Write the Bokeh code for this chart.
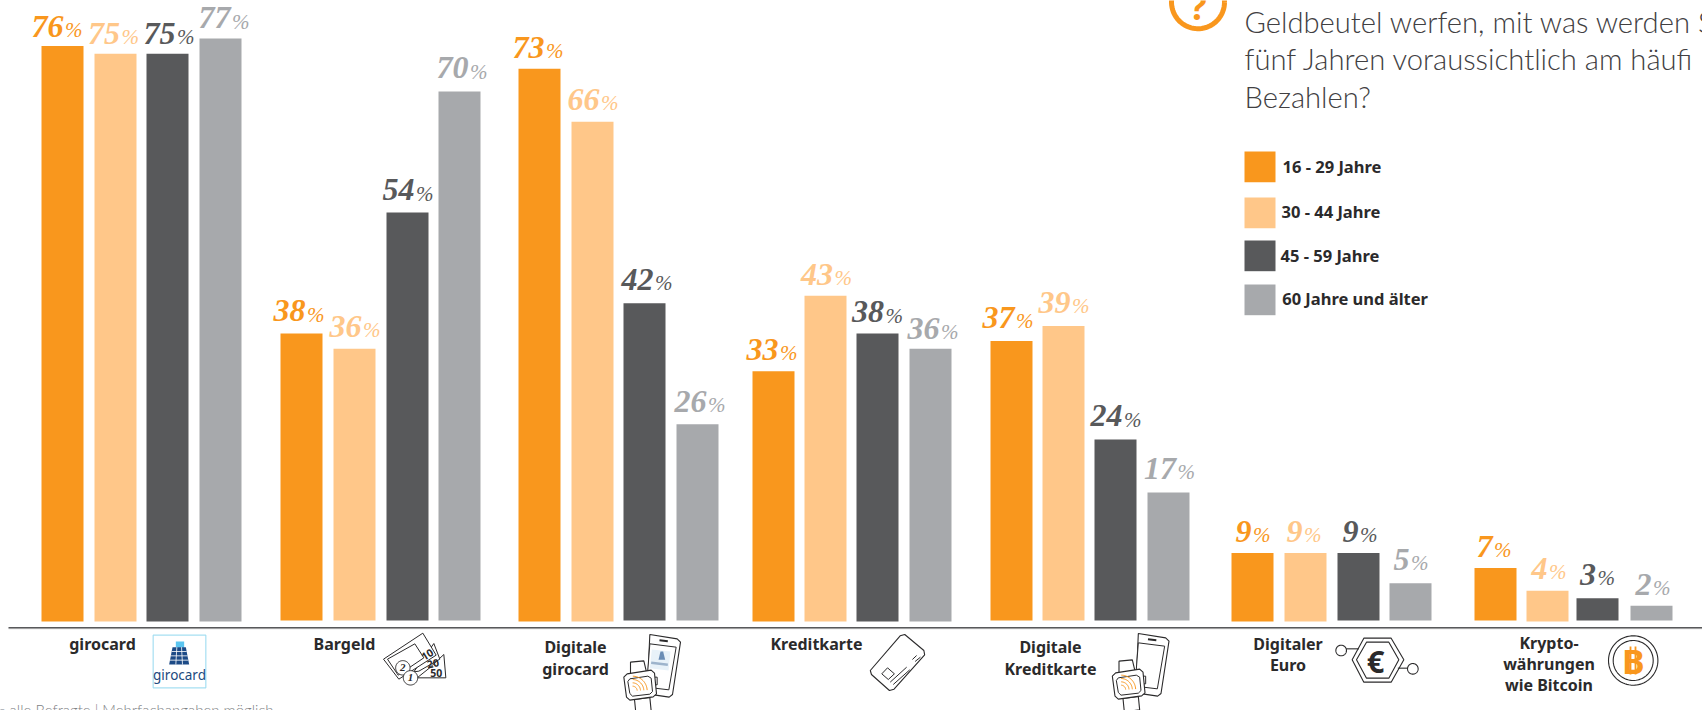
import numpy as np
from bokeh.plotting import figure
from bokeh.models import Range1d, ColumnDataSource
from bokeh.core.properties import value
from bokeh.embed import file_html
from bokeh.resources import INLINE

# ---------- data ----------
categories = ["girocard", "Bargeld", "Digitale girocard", "Kreditkarte",
              "Digitale Kreditkarte", "Digitaler Euro", "Krypto-währungen wie Bitcoin"]
series_names = ["16 - 29 Jahre", "30 - 44 Jahre", "45 - 59 Jahre", "60 Jahre und älter"]
age_16_29 = [76, 38, 73, 33, 37, 9, 7]
age_30_44 = [75, 36, 66, 43, 39, 9, 4]
age_45_59 = [75, 54, 42, 38, 24, 9, 3]
age_60_up = [77, 70, 26, 36, 17, 5, 2]
question_lines = ["Geldbeutel werfen, mit was werden S", "fünf Jahren voraussichtlich am häufi", "Bezahlen?"]
footnote = "n = alle Befragte | Mehrfachangaben möglich"

# ---------- styles / layout ----------
COLORS = ["#F9971D", "#FFC789", "#58595B", "#A7A9AC"]
TEXT = "#2B2A2B"
W, H = 1702, 710
ZERO_PX, PX_PER_PCT = 620.5, 7.565
BAR_W = 42
BAR_LEFT = [[41, 94, 146, 199], [280, 333, 386, 438], [518, 571, 623, 676],
            [752, 804, 856, 909], [990, 1042, 1094, 1147],
            [1231, 1284, 1337, 1389], [1474, 1526, 1576, 1630]]
BASE_SHIFT = [[1, 1, 1, 1], [0, 0, 0, 0], [1, 1, 0, 0], [1, 1, 1, 1],
              [0, 0, 0, 0], [1, 1, 0, 0], [0, 1, 0, 0]]
LABEL_SEP = [[1, 4.5, 8, 10], [4, 7, 7, 9], [5, 7, 9, 9], [5, 7.6, 6.6, 9],
             [3, 7, 7, 7.6], [-1, -3, 0, -1], [-3, 0, -1.5, 0]]
LABEL_DY = [[1, 0, 0, 0], [-2, -2, -2, -3], [-1, -2, -3, -2], [-1, -1, -1, 0],
            [-3, -3, -3, -3], [-1, -1, -1, -3], [-1, -2, -3, -1]]
BASE_FIX = 0.33   # extra lift, as a share of the font size, of an alphabetic text

p = figure(width=W, height=H, x_range=Range1d(0, W),
           y_range=Range1d((ZERO_PX - H) / PX_PER_PCT, ZERO_PX / PX_PER_PCT),
           x_axis_type=None, y_axis_type=None, toolbar_location=None,
           output_backend="svg", min_border=0, outline_line_color=None,
           background_fill_color="white", border_fill_color="white")
p.styles = {"position": "absolute", "left": "0px", "top": "0px"}
p.extra_y_ranges = {"px": Range1d(H, 0)}

# ---------- bars and value labels ----------
all_series = [age_16_29, age_30_44, age_45_59, age_60_up]
for s, vals in enumerate(all_series):
    xc = [BAR_LEFT[g][s] + BAR_W / 2 for g in range(len(vals))]
    bottom = [(-0.5 if BASE_SHIFT[g][s] else 0.5) / PX_PER_PCT for g in range(len(vals))]
    src = ColumnDataSource(dict(x=xc, top=vals, bottom=bottom))
    p.vbar(x="x", top="top", bottom="bottom", width=BAR_W, fill_color=COLORS[s],
           line_color=None, source=src)
    for g, v in enumerate(vals):
        sx = xc[g] + LABEL_SEP[g][s]
        dy = -10 + LABEL_DY[g][s]
        p.text(x=[sx], y=[v], text=[str(v)], text_color=COLORS[s],
               text_font=value("Liberation Serif"), text_font_style="bold italic",
               text_font_size="32px", text_align="right", text_baseline="alphabetic",
               y_offset=dy - BASE_FIX * 32)
        p.text(x=[sx], y=[v], text=["%"], text_color=COLORS[s],
               text_font=value("Liberation Serif"), text_font_style="italic",
               text_font_size="21px", text_align="left", text_baseline="alphabetic",
               x_offset=1.5, y_offset=dy - BASE_FIX * 21)


def T(x, y, s, font="Noto Sans", size=16, color=TEXT, style="normal", align="left", angle=0):
    p.text(x=[x], y=[y - BASE_FIX * size], text=[s], y_range_name="px", text_font=value(font),
           text_font_size=f"{size}px", text_color=color, text_font_style=style,
           text_align=align, text_baseline="alphabetic", angle=angle)


def L(pts, color="#2B2A2B", lw=1.0):
    xs, ys = zip(*pts)
    p.line(list(xs), list(ys), y_range_name="px", line_color=color, line_width=lw)


def P(pts, fill="white", color="#2B2A2B", lw=1.0):
    xs, ys = zip(*pts)
    p.patch(list(xs), list(ys), y_range_name="px", fill_color=fill,
            line_color=color if lw else None, line_width=lw or 1)


def C(x, y, r, fill=None, color="#2B2A2B", lw=1.0):
    t = np.linspace(0, 2 * np.pi, 80)
    xs, ys = x + r * np.cos(t), y + r * np.sin(t)
    if fill:
        p.patch(list(xs), list(ys), y_range_name="px", fill_color=fill, line_color=color, line_width=lw)
    else:
        p.line(list(xs), list(ys), y_range_name="px", line_color=color, line_width=lw)


def zoomed(ox, oy, kx, ky=3):
    return lambda pts: [(ox + a / kx, oy + b / ky) for a, b in pts]


# ---------- baseline ----------
L([(8, 628.3), (W, 628.3)], "#D9D9DA", 1)
L([(8, 627.3), (W, 627.3)], "#58595B", 1.5)

# ---------- category labels ----------
B = dict(size=16, style="bold", align="center")
T(102, 649, "girocard", **B)
T(344, 649, "Bargeld", **B)
T(575, 651.7, "Digitale", **B)
T(575, 673.5, "girocard", **B)
T(816, 649, "Kreditkarte", **B)
T(1050, 651.7, "Digitale", **B)
T(1050, 673.5, "Kreditkarte", **B)
T(1287.5, 649, "Digitaler", **B)
T(1287.5, 670, "Euro", **B)
T(1548.5, 648, "Krypto-", **B)
T(1548.5, 669, "währungen", **B)
T(1548.5, 690, "wie Bitcoin", **B)

# ---------- footnote ----------
T(-16, 714, footnote, font="Lato Light", size=15, color="#808285")

# ---------- question ----------
C(1197.5, 1.7, 26.5, color="#F9971D", lw=5)
T(1197.5, 18, "?", font="Noto Sans", size=36, color="#F9971D", style="bold", align="center")
T(1620, -7, ",", font="Lato Light", size=29.2, color="#414042")
T(1644, -7, "g", font="Lato Light", size=29.2, color="#414042")
for yy, line in zip([30.5, 68, 105.5], question_lines):
    T(1244, yy, line, font="Lato Light", size=29.2, color="#414042")

# ---------- legend ----------
for (top, bot, tx, ty), name, col in zip(
        [(151, 181.7, 1282, 171.5), (197, 227.7, 1281, 216.5), (240, 270.7, 1280, 260), (284, 314.7, 1281.7, 303.5)],
        series_names, COLORS):
    P([(1244, top), (1275, top), (1275, bot), (1244, bot)], fill=col, lw=0)
    T(tx, ty, name, size=16.5, style="bold")

# ---------- icon: girocard ----------
z = zoomed(148, 630, 3)
P(z([(14, 14), (172, 14), (172, 172), (14, 172)]), fill="white", color="#A6DFF2", lw=1.2)
P(z([(82, 33), (107, 33), (107, 52), (82, 52)]), fill="#5BC5F0", lw=0)
P(z([(72, 50), (112, 50), (122, 102), (62, 102)]), fill="#1C4A86", lw=0)
for q in (63, 76, 89):
    u = (q - 50) / 52 * 10
    L(z([(72 - u, q), (112 + u, q)]), color="white", lw=0.8)
for top_x, bot_x in ((85, 82), (99, 102)):
    L(z([(top_x, 50), (bot_x, 102)]), color="white", lw=0.8)
T(179, 678.5, "girocard", size=13.5, color="#1C4A7E", align="center")

# ---------- icon: Bargeld ----------
z = zoomed(375, 628, 3)
P(z([(125, 148), (160, 120), (205, 78), (211, 148)]))
P(z([(115, 130), (175, 45), (193, 92), (130, 128)]))
P(z([(24, 92), (142, 14), (182, 80), (70, 152)]))
P(z([(36, 92), (118, 46), (145, 88), (68, 140)]))
a, b = z([(155, 88)])[0]
T(a, b, "10", size=10.5, style="bold", align="center", angle=0.55)
a, b = z([(172, 115)])[0]
T(a, b, "20", size=10.5, style="bold", align="center", angle=0.2)
a, b = z([(182, 145)])[0]
T(a, b, "50", size=10.5, style="bold", align="center")
a, b = z([(82, 118)])[0]
C(a, b, 7.2, fill="white")
T(a, b + 3.5, "2", font="Liberation Serif", size=11, style="bold italic", align="center")
a, b = z([(105, 148)])[0]
C(a, b, 7.2, fill="white")
T(a, b + 3.5, "1", font="Liberation Serif", size=11, style="bold italic", align="center")


# ---------- icon: phone + watch ----------
def wallet_icon(dx, dy, with_card):
    z = zoomed(610 + dx, 625 + dy, 3)
    P(z([(118, 27), (200, 40), (210, 50), (186, 207), (176, 215), (110, 205)]), lw=1.1)
    P(z([(118, 55), (197, 65), (175, 193), (108, 185)]), lw=1)
    L(z([(147, 44), (172, 47)]), lw=2)
    if with_card:
        P(z([(124, 72), (180, 78), (174, 135), (118, 128)]), fill="#E8F2F9", lw=0)
        P(z([(150, 78), (158, 78), (164, 103), (144, 103)]), fill="#6A8DB5", lw=0)
        L(z([(122, 112), (172, 118)]), color="#9DB4CC", lw=2.5)
    P(z([(60, 110), (100, 106), (108, 140), (60, 148)]), lw=1.1)
    P(z([(72, 222), (118, 216), (122, 256), (76, 262)]), lw=1.1)
    P(z([(126, 155), (140, 155), (140, 178), (126, 178)]), lw=1)
    P(z([(50, 145), (122, 134), (132, 143), (138, 205), (128, 214), (58, 224), (48, 215), (40, 155)]), lw=1.1)
    P(z([(58, 160), (112, 152), (122, 158), (126, 198), (118, 206), (66, 212), (58, 204), (52, 168)]), lw=1)
    for r in (14, 24, 34, 44):
        t = np.linspace(-1.55, -0.05, 20)
        L(z([(66 + r * np.cos(q), 196 + r * np.sin(q)) for q in t]), color="#F9971D", lw=1)


wallet_icon(0, 0, True)
wallet_icon(488.5, -1, False)

# ---------- icon: card ----------
z = zoomed(600, 610, 2.613)
P(z([(783, 76), (795, 72), (845, 120), (847, 133), (767, 236), (755, 240), (708, 192), (705, 180)]), lw=1.1)
P(z([(750, 172), (768, 190), (752, 207), (735, 190)]), lw=1)
L(z([(757, 215), (800, 170)]), lw=1)
L(z([(765, 222), (808, 178)]), lw=1)
L(z([(815, 147), (826, 135)]), lw=1)
L(z([(822, 153), (836, 140)]), lw=1)

# ---------- icon: euro ----------
z = zoomed(1320, 625, 3)
P(z([(130, 38), (212, 38), (250, 103), (212, 170), (130, 170), (95, 103)]), lw=1.1)
P(z([(138, 50), (205, 50), (235, 103), (205, 158), (138, 158), (108, 103)]), lw=1.1)
L(z([(77, 70), (115, 70)]), lw=1.1)
L(z([(232, 128), (262, 128)]), lw=1.1)
a, b = z([(62, 75)])[0]
C(a, b, 5.3, fill="white", lw=1.1)
a, b = z([(277, 130)])[0]
C(a, b, 5.3, fill="white", lw=1.1)
a, b = z([(165, 105)])[0]
T(a, b + 11, "€", font="Noto Sans", size=31, style="bold", align="center")

# ---------- icon: bitcoin ----------
C(1632.7, 660, 24.7, lw=1.1)
C(1632.7, 660, 20, lw=1.1)
for xx in (1630, 1635):
    L([(xx, 646), (xx, 674)], "#F9971D", 1.8)
T(1632.7, 672, "B", font="Noto Sans", size=34, color="#F9971D", style="bold", align="center")

open("out.html", "w").write(file_html(p, INLINE))
